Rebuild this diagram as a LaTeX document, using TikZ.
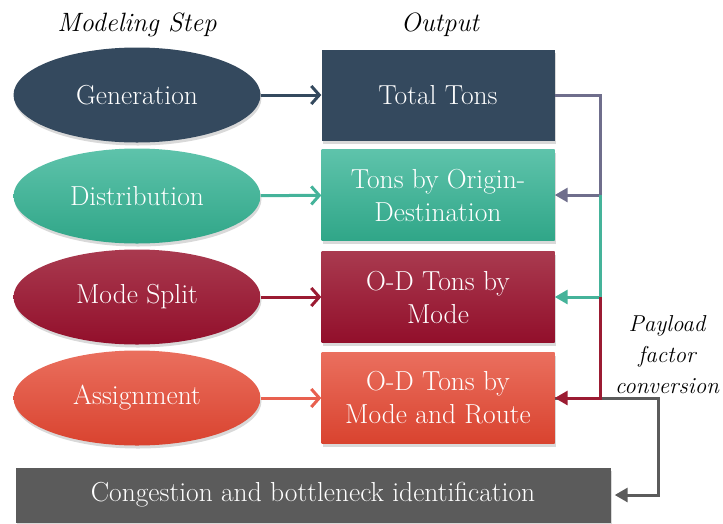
\documentclass[tikz,border=0pt]{standalone}
\usepackage{fontspec}
\usetikzlibrary{shapes.geometric,shadows,arrows.meta}

\definecolor{genc}{HTML}{34495E}
\definecolor{distt}{HTML}{5EC3AB}
\definecolor{distb}{HTML}{30A688}
\definecolor{distl}{HTML}{45B39A}
\definecolor{modet}{HTML}{A93A4F}
\definecolor{modeb}{HTML}{920F2B}
\definecolor{model}{HTML}{9B1B32}
\definecolor{asgt}{HTML}{EA6F5E}
\definecolor{asgb}{HTML}{D9432F}
\definecolor{asgl}{HTML}{E8604F}
\definecolor{congc}{HTML}{5B5B5B}
\definecolor{backl}{HTML}{6F6E8C}

\begin{document}
\begin{tikzpicture}[x=1pt,y=-1pt,
    stepnode/.style={ellipse,minimum width=247pt,minimum height=95pt,inner sep=0pt,text=white,
        font=\fontsize{27.5}{32}\selectfont,drop shadow={opacity=0.3,shadow xshift=1pt,shadow yshift=-3pt}},
    outbox/.style={rectangle,minimum width=233pt,minimum height=91pt,inner sep=0pt,align=center,text=white,
        font=\fontsize{27.5}{33}\selectfont,drop shadow={opacity=0.3,shadow xshift=1pt,shadow yshift=-3pt}},
    head/.style={font=\itshape\fontsize{26.5}{32}\selectfont},
    link/.style={line width=3pt,-{Straight Barb[length=8pt,width=18pt]}},
    back/.style={line width=3pt,-{Triangle[length=13pt,width=14pt]}}]
    \useasboundingbox (0,0) rectangle (723,523);

    % headings
    \node [head] (steph) at (137,25) {Modeling Step};
    \node [head] (outh) at (440,25) {Output};

    % modeling steps
    \node [stepnode,fill=genc] (gen) at (137,95) {Generation};
    \node [stepnode,top color=distt,bottom color=distb] (dist) at (137,196) {Distribution};
    \node [stepnode,top color=modet,bottom color=modeb] (split) at (137,297) {Mode Split};
    \node [stepnode,top color=asgt,bottom color=asgb] (asg) at (137,398) {Assignment};

    % outputs
    \node [outbox,fill=genc] (tt) at (438,95) {Total Tons};
    \node [outbox,top color=distt,bottom color=distb] (od) at (438,195) {Tons by Origin-\\Destination};
    \node [outbox,top color=modet,bottom color=modeb] (mode) at (438,297) {O-D Tons by\\Mode};
    \node [outbox,top color=asgt,bottom color=asgb] (route) at (438,398) {O-D Tons by\\Mode and Route};
    \node [outbox,minimum width=595pt,minimum height=55pt,fill=congc] (cong) at (313,495) {Congestion and bottleneck identification};

    \node [font=\itshape\fontsize{23}{31}\selectfont,align=center] (pay) at (667,355) {Payload\\factor\\conversion};

    % step -> output
    \draw [link,genc] (gen) -- (tt);
    \draw [link,distl] (dist) -- (od);
    \draw [link,model] (split) -- (mode);
    \draw [link,asgl] (asg) -- (route);

    % feedback
    \draw [back,congc,shorten >=4pt] (route.east) -- ++(104,0) |- (cong.east);
    \draw [back,backl] (tt.east) -- ++(46,0) |- (od.east);
    \draw [back,distl] (od.east) ++(46,0) |- (mode.east);
    \draw [back,model] (mode.east) ++(46,0) |- (route.east);
\end{tikzpicture}
\end{document}
